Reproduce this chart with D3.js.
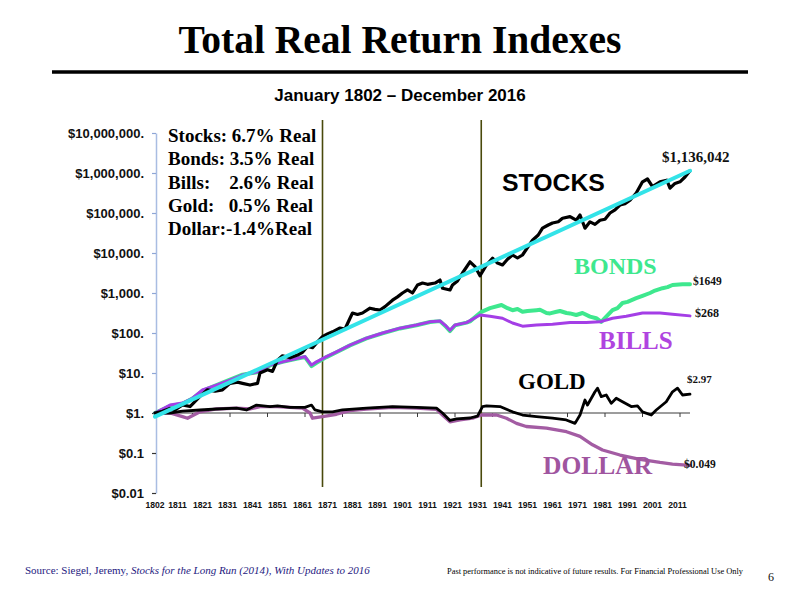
<!DOCTYPE html>
<html><head><meta charset="utf-8">
<script src="https://cdn.jsdelivr.net/npm/d3@7"></script>
<style>body{margin:0;background:#fff}svg{display:block}</style>
</head><body>
<svg id="c" width="799" height="592"></svg>
<script>
// ---------- data ----------
const yTickValues = [0.01, 0.1, 1, 10, 100, 1000, 1e4, 1e5, 1e6, 1e7];
const yTickLabels = ["$0.01", "$0.1", "$1.", "$10.", "$100.", "$1,000.", "$10,000.", "$100,000.", "$1,000,000.", "$10,000,000."];
const xTickLabels = ["1802","1811","1821","1831","1841","1851","1861","1871","1881","1891","1901","1911","1921","1931","1941","1951","1961","1971","1981","1991","2001","2011"];
const baselineTickYears = [1802,1817,1832,1847,1862,1877,1892,1907,1922,1937,1952,1967,1982,1997,2012];
const markerYears = [1869, 1932.5];

const stocks = [[1802,1],[1805,1.1],[1808,1.3],[1810,1.2],[1813,1.6],[1816,1.45],[1820,2.6],[1823,3.8],[1826,3.5],[1829,3.8],[1832,5.5],[1835,5.9],[1837,5.5],[1840,5.0],[1843,5.5],[1844,10],[1847,12],[1849,11],[1851,21],[1853,27],[1856,24],[1859,28],[1861,33],[1863,46],[1865,43],[1867,60],[1869,81],[1871,95],[1873,107],[1876,133],[1878,126],[1880,234],[1881,316],[1883,290],[1885,316],[1888,417],[1890,390],[1892,376],[1894,457],[1897,661],[1899,800],[1901,1000],[1903,1190],[1905,1000],[1907,1585],[1909,1778],[1911,1650],[1914,1778],[1916,2113],[1917,1318],[1920,1190],[1921,1585],[1923,2000],[1925,3162],[1928,6026],[1930,4571],[1932,2692],[1934.6,5012],[1937,7413],[1939,5600],[1941,5012],[1943,7000],[1945,8913],[1947,7500],[1949,8913],[1953,20893],[1955.3,28184],[1957,41687],[1959.3,50119],[1961,56234],[1963.3,60256],[1965,74131],[1968,81283],[1970.5,66069],[1972,89125],[1974,41687],[1976,60256],[1978,52000],[1980,66069],[1982,70000],[1984,100000],[1986,120000],[1988,158489],[1990,170000],[1992,208930],[1994.5,316228],[1997,602560],[1999,707946],[2001,457088],[2004,602560],[2006.7,660693],[2008,416869],[2010,549541],[2012,602560],[2014,794328],[2016,1136042]];
const trend = [[1802,0.81],[2016,1136042]];
const bonds = [[1802,1],[1808,1.5],[1813,1.7],[1817,2.3],[1821,3.6],[1826.6,5.0],[1832,6.8],[1837,9.1],[1843,10.5],[1848,15.5],[1853,19],[1859,23],[1862,25],[1864.6,14.8],[1866.6,18],[1870.6,25],[1874.6,33],[1880,49],[1886.6,73],[1893,98],[1900,130],[1906.6,156],[1912,188],[1916,198],[1918,152],[1920,112],[1922,155],[1926.6,182],[1928,195],[1932.6,339],[1936,417],[1940.6,501],[1943,417],[1945,372],[1947,398],[1949,339],[1951,355],[1954.6,372],[1956,380],[1958.6,316],[1960,309],[1962.6,339],[1964,355],[1966.6,316],[1968,309],[1970.5,282],[1973,316],[1976,257],[1978.5,234],[1980.5,190],[1982.5,257],[1985,372],[1987,420],[1989,562],[1991,600],[1994.5,741],[1997,850],[2000,1000],[2002,1150],[2005,1318],[2007,1400],[2009,1585],[2013,1660],[2016,1649]];
const bills = [[1802,1],[1808,1.58],[1813,1.78],[1817,2.34],[1821,3.76],[1826.6,5.0],[1832,6.6],[1837,8.9],[1843,10.7],[1848,15.8],[1853,19],[1859,23.4],[1862,25.7],[1864.6,15.8],[1866.6,19],[1870.6,25.7],[1874.6,33.9],[1880,50],[1886.6,74],[1893,100],[1900,132],[1906.6,158],[1912,190],[1916,200],[1918,158],[1920,117],[1922,158],[1926.6,182],[1932,282],[1936,263],[1941,234],[1945,178],[1949,148],[1954.6,158],[1961,166],[1968,182],[1974.5,182],[1980,190],[1985,234],[1990.5,263],[1997,316],[2004,316],[2009,295],[2016,268]];
const gold = [[1802,1],[1808,1],[1813,1.12],[1820,1.19],[1826.6,1.26],[1834.6,1.32],[1838.6,1.19],[1842.6,1.58],[1848,1.45],[1851,1.51],[1856,1.38],[1862,1.38],[1864.6,1.58],[1866,1.19],[1869,1.07],[1873,1.07],[1877,1.19],[1886.6,1.32],[1897,1.45],[1906.6,1.38],[1914.6,1.32],[1917,1],[1920,0.65],[1922.6,0.71],[1928,0.75],[1931,0.84],[1933,1.45],[1934.6,1.5],[1940,1.45],[1945,1.07],[1949,0.89],[1954.6,0.81],[1961,0.74],[1966.5,0.67],[1970,0.55],[1972,0.89],[1974,2.11],[1975,1.58],[1978,3.39],[1979,4.17],[1980.5,2.57],[1982.5,2.82],[1984.5,1.74],[1986.5,2.34],[1989,1.91],[1992.5,1.45],[1995,1.5],[1997,1.07],[2000.5,0.89],[2002.5,1.19],[2006.5,1.91],[2009,3.39],[2011,4.17],[2013,2.82],[2016,2.97]];
const dollar = [[1802,1],[1808,1],[1813,0.81],[1815,0.74],[1820,1.07],[1826.6,1.26],[1834.6,1.32],[1840,1.26],[1844,1.45],[1851,1.45],[1861,1.32],[1864,1],[1865,0.74],[1869,0.81],[1874.6,0.93],[1880,1.15],[1886.6,1.26],[1897,1.38],[1906.6,1.32],[1914.6,1.23],[1917,0.89],[1920,0.60],[1924,0.67],[1929,0.74],[1932.5,0.89],[1938.6,0.89],[1942.6,0.74],[1946.6,0.55],[1950.5,0.46],[1958.6,0.42],[1966.6,0.34],[1972,0.26],[1977,0.16],[1981,0.119],[1988,0.089],[1996,0.069],[2004,0.058],[2009,0.053],[2016,0.049]];

const legendLines = ["Stocks: 6.7% Real", "Bonds: 3.5% Real", "Bills:    2.6% Real", "Gold:   0.5% Real", "Dollar:-1.4%Real"];

// ---------- drawing ----------
const svg = d3.select("#c");
const SERIF = "'Liberation Serif','Times New Roman',serif";
const SANS = "'Liberation Sans',Arial,sans-serif";

svg.append("rect").attr("width",799).attr("height",592).attr("fill","#fff");

// title
svg.append("text").attr("x",400).attr("y",53).attr("text-anchor","middle")
  .style("font-family",SERIF).style("font-weight","bold").style("font-size","39.5px")
  .text("Total Real Return Indexes");
svg.append("line").attr("x1",52).attr("x2",748).attr("y1",72).attr("y2",72)
  .attr("stroke","#000").attr("stroke-width",3.5);
svg.append("text").attr("x",400).attr("y",101).attr("text-anchor","middle")
  .style("font-family",SANS).style("font-weight","bold").style("font-size","17px")
  .text("January 1802 \u2013 December 2016");

const x = d3.scaleLinear().domain([1802, 2016]).range([155, 690]);
const y = d3.scaleLog().domain([0.01, 1e7]).range([493, 133]);

// y axis
const yAxis = svg.append("g").attr("transform","translate(156,0)")
  .call(d3.axisLeft(y).tickValues(yTickValues).tickFormat((d,i)=>yTickLabels[i])
    .tickSize(4).tickPadding(8).tickSizeOuter(0));
yAxis.select(".domain").attr("stroke","#a9bde2").attr("stroke-width",1.5);
yAxis.selectAll(".tick line").attr("stroke",d=> d<=1 ? "#333" : "#8ea6d6").attr("stroke-width",1.2);
yAxis.selectAll(".tick text").style("font-family",SANS).style("font-weight","bold")
  .style("font-size","13px").attr("fill","#111");

// x labels
svg.append("g").selectAll("text").data(xTickLabels).join("text")
  .attr("x",d=>x(+d)).attr("y",508).attr("text-anchor","middle")
  .style("font-family",SANS).style("font-weight","bold").style("font-size","8.6px")
  .attr("fill","#111").text(d=>d);

// $1 baseline with ticks
svg.append("line").attr("x1",x(1802)).attr("x2",x(2016)).attr("y1",y(1)).attr("y2",y(1))
  .attr("stroke","#3a3a3a").attr("stroke-width",1);
svg.append("g").selectAll("line").data(baselineTickYears).join("line")
  .attr("x1",d=>x(d)).attr("x2",d=>x(d)).attr("y1",y(1)).attr("y2",y(1)+4)
  .attr("stroke","#3a3a3a").attr("stroke-width",1);

// vertical markers
svg.append("g").selectAll("line").data(markerYears).join("line")
  .attr("x1",d=>x(d)).attr("x2",d=>x(d)).attr("y1",120).attr("y2",487)
  .attr("stroke","#4a4a0c").attr("stroke-width",1.6);

const line = d3.line().x(d=>x(d[0])).y(d=>y(d[1]));
function draw(data, color, w){
  svg.append("path").datum(data).attr("d",line).attr("fill","none")
    .attr("stroke",color).attr("stroke-width",w)
    .attr("stroke-linejoin","round").attr("stroke-linecap","round");
}
draw(dollar, "#a35ca3", 3.3);
draw(gold, "#000", 2.8);
draw(bonds, "#3ee88e", 4);
draw(bills, "#a43ee6", 3);
draw(stocks, "#000", 3.2);
draw(trend, "#33e3e8", 4);

// legend box text
svg.append("g").selectAll("text").data(legendLines).join("text")
  .attr("x",168).attr("y",(d,i)=>142 + i*23.3)
  .style("font-family",SERIF).style("font-weight","bold").style("font-size","19px")
  .style("white-space","pre").attr("fill","#000").text(d=>d);

// series labels
function lab(t, px, py, size, color, fam){
  svg.append("text").attr("x",px).attr("y",py)
    .style("font-family",fam).style("font-weight","bold").style("font-size",size+"px")
    .attr("fill",color).text(t);
}
lab("STOCKS", 502, 191, 24.8, "#000", SANS);
lab("BONDS", 574, 274, 24, "#3ee88e", SERIF);
lab("BILLS", 599, 349, 25, "#b044e0", SERIF);
lab("GOLD", 518, 389, 23, "#000", SERIF);
lab("DOLLAR", 543, 474, 25.5, "#a0559f", SERIF);

// end values
lab("$1,136,042", x(2016)-28, y(1136042)-9, 15, "#111", SERIF);
lab("$1649", x(2016)+3, y(1649)+1, 11.5, "#111", SERIF);
lab("$268", x(2016)+5, y(268)+1, 12, "#111", SERIF);
lab("$2.97", x(2016)-3, y(2.97)-11, 11, "#111", SERIF);
lab("$0.049", x(2016)-6, y(0.049)+3, 11.5, "#111", SERIF);

// footer
const src = svg.append("text").attr("x",25).attr("y",574)
  .style("font-family",SERIF).style("font-size","11px").attr("fill","#1e2080");
src.append("tspan").text("Source: Siegel, Jeremy, ");
src.append("tspan").style("font-style","italic").text("Stocks for the Long Run (2014), With Updates to 2016");
svg.append("text").attr("x",447).attr("y",574).attr("textLength",296).attr("lengthAdjust","spacingAndGlyphs")
  .style("font-family",SERIF).style("font-size","8.5px").attr("fill","#000")
  .text("Past performance is not indicative of future results.  For Financial Professional Use Only");
svg.append("text").attr("x",768).attr("y",581)
  .style("font-family",SERIF).style("font-size","12px").attr("fill","#111").text("6");
</script>
</body></html>
